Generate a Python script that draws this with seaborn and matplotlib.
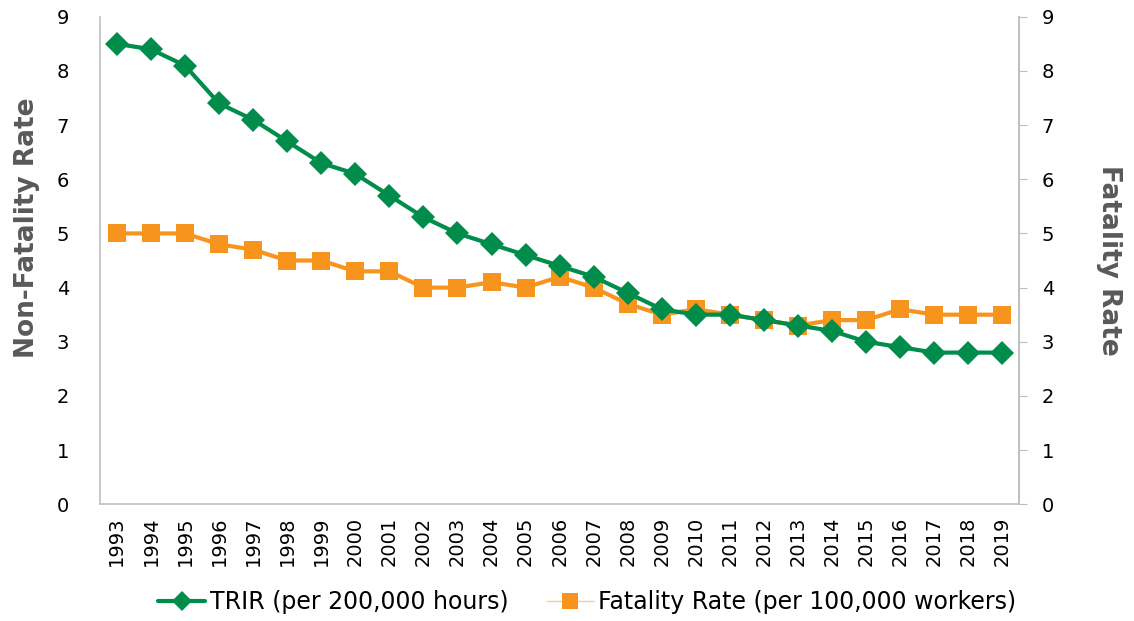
import pandas as pd
import seaborn as sns
from matplotlib import pyplot as plt
from matplotlib.lines import Line2D

years = list(range(1993, 2020))
trir = [8.5, 8.4, 8.1, 7.4, 7.1, 6.7, 6.3, 6.1, 5.7, 5.3, 5.0, 4.8, 4.6, 4.4,
        4.2, 3.9, 3.6, 3.5, 3.5, 3.4, 3.3, 3.2, 3.0, 2.9, 2.8, 2.8, 2.8]
fatality = [5.0, 5.0, 5.0, 4.8, 4.7, 4.5, 4.5, 4.3, 4.3, 4.0, 4.0, 4.1, 4.0, 4.2,
            4.0, 3.7, 3.5, 3.6, 3.5, 3.4, 3.3, 3.4, 3.4, 3.6, 3.5, 3.5, 3.5]
y_ticks = list(range(0, 10))

verde = '#008C4A'
naranja = '#F7941D'
gris = '#595959'
eje = '#BFBFBF'

df = pd.DataFrame({'idx': range(len(years)), 'anio': years,
                   'trir': trir, 'fatality': fatality})

sns.set_style('white')
plt.rcParams['font.family'] = ['DejaVu Sans']
plt.rcParams['text.color'] = 'black'
plt.rcParams['xtick.color'] = 'black'
plt.rcParams['ytick.color'] = 'black'

fig = plt.figure(figsize=(11.34, 6.21), dpi=100)
ax = fig.add_axes([0.088, 0.188, 0.811, 0.785])

sns.lineplot(x='idx', y='fatality', data=df, ax=ax, color=naranja, linewidth=3,
             marker='s', markersize=13, markeredgewidth=0, zorder=2)
sns.lineplot(x='idx', y='trir', data=df, ax=ax, color=verde, linewidth=3,
             marker='D', markersize=12, markeredgewidth=0, zorder=3)

ax.set_xlim(-0.5, len(years) - 0.5)
ax.set_ylim(0, 9)
ax.set_xticks(df['idx'])
ax.set_xticklabels(years, rotation=90, fontsize=14)
ax.set_yticks(y_ticks)
ax.tick_params(axis='y', labelsize=14, length=0, pad=22)
ax.tick_params(axis='x', length=0, pad=9)
ax.set_xlabel('')
ax.set_ylabel('Non-Fatality Rate', fontsize=19, fontweight='bold', color=gris)
ax.yaxis.set_label_coords(-0.065, 0.567)

ax.spines['top'].set_visible(False)
for s in ['left', 'bottom', 'right']:
    ax.spines[s].set_color(eje)
    ax.spines[s].set_linewidth(1.2)

ax2 = ax.twinx()
ax2.set_ylim(0, 9)
ax2.set_yticks(y_ticks)
ax2.tick_params(axis='y', labelsize=14, length=6, color=eje, labelcolor='black', pad=10)
ax2.set_ylabel('Fatality Rate', fontsize=19, fontweight='bold', color=gris, rotation=270)
ax2.yaxis.set_label_coords(1.112, 0.5)
ax2.spines['top'].set_visible(False)
ax2.spines['right'].set_color(eje)
ax2.spines['right'].set_linewidth(1.2)
ax2.spines['left'].set_visible(False)
ax2.spines['bottom'].set_visible(False)

handles = [Line2D([], [], color=verde, linewidth=3, marker='D', markersize=10, markeredgewidth=0),
           Line2D([], [], color='#FBCB8E', linewidth=1, marker='s', markersize=12,
                  markeredgewidth=0, markerfacecolor=naranja)]
fig.legend(handles, ['TRIR (per 200,000 hours)', 'Fatality Rate (per 100,000 workers)'],
           loc='center', bbox_to_anchor=(0.518, 0.03), ncol=2, frameon=False,
           fontsize=17, handlelength=2.0, handletextpad=0.2, columnspacing=1.6)

fig.savefig('out.png', dpi=100)
